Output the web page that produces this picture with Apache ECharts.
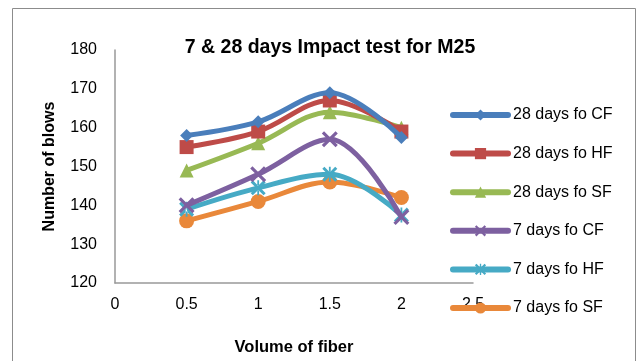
<!DOCTYPE html>
<html><head><meta charset="utf-8">
<script src="https://cdn.jsdelivr.net/npm/echarts@6/dist/echarts.min.js"></script>
<style>html,body{margin:0;padding:0;background:#fff}#c{width:644px;height:361px}</style>
</head><body><div id="c"></div>
<script>
const fiberVolumes = [0.5, 1, 1.5, 2];
const seriesNames = ['28 days fo CF','28 days fo HF','28 days fo SF','7 days fo CF','7 days fo HF','7 days fo SF'];
const d28CF = [158, 161.5, 169, 157.5];
const d28HF = [155, 159, 167, 159];
const d28SF = [149, 156, 164, 160];
const d7CF = [140, 148, 157, 137];
const d7HF = [139, 144.5, 148, 137.5];
const d7SF = [136, 141, 146, 142];
const yTicks = [120,130,140,150,160,170,180];
const xTicks = [0,0.5,1,1.5,2,2.5];

const colors = ['#4A7EBB','#BE4B48','#98B954','#7D60A0','#46AAC5','#E9883A'];
const xPath = 'path://M0,1.4 L1.4,0 L5,3.6 L8.6,0 L10,1.4 L6.4,5 L10,8.6 L8.6,10 L5,6.4 L1.4,10 L0,8.6 L3.6,5 Z';
const astPath = 'path://M0,1.4 L1.4,0 L5,3.6 L8.6,0 L10,1.4 L6.4,5 L10,8.6 L8.6,10 L5,6.4 L1.4,10 L0,8.6 L3.6,5 Z M4.4,0 L4.4,10 L5.6,10 L5.6,0 Z';
const symbols = ['diamond','rect','triangle',xPath,astPath,'circle'];
const sizes = [13,14,14,16,15,15];
const allData = [d28CF,d28HF,d28SF,d7CF,d7HF,d7SF];

const chart = echarts.init(document.getElementById('c'));
const font = "'Liberation Sans', Arial, sans-serif";
chart.setOption({
  animation:false,
  color: colors,
  title:{text:'7 & 28 days Impact test for M25', left:325, top:33, textAlign:'center',
    textStyle:{fontFamily:font,fontSize:19.5,fontWeight:'bold',color:'#000'}},
  graphic:[{type:'rect',shape:{x:12.5,y:8.5,width:623,height:360},style:{fill:'none',stroke:'#8c8c8c',lineWidth:1},silent:true,z:-1}],
  grid:{left:115,right:171,top:50,bottom:77},
  xAxis:{type:'value',min:0,max:2.5,interval:0.5,
    name:'Volume of fiber',nameLocation:'middle',nameGap:56,
    nameTextStyle:{fontFamily:font,fontSize:16.5,fontWeight:'bold',color:'#000'},
    axisLine:{lineStyle:{color:'#999',width:1.5}},axisTick:{show:false},splitLine:{show:false},
    axisLabel:{fontFamily:font,fontSize:16,color:'#000',margin:14,formatter:v=>String(v)}},
  yAxis:{type:'value',min:120,max:180,interval:10,
    name:'Number of blows',nameLocation:'middle',nameGap:57,
    nameTextStyle:{fontFamily:font,fontSize:16,fontWeight:'bold',color:'#000'},
    axisLine:{show:true,lineStyle:{color:'#999',width:1.5}},axisTick:{show:false},splitLine:{show:false},
    axisLabel:{fontFamily:font,fontSize:16,color:'#000',margin:18}},
  legend:{orient:'vertical',left:450,top:107,padding:0,itemWidth:55,itemHeight:14,itemGap:22.6,
    lineStyle:{width:6,cap:'round'},
    data:seriesNames,textStyle:{fontFamily:font,fontSize:16,color:'#000'}},
  series: seriesNames.map((n,i)=>({
    name:n,type:'line',smooth:0.35,
    data: fiberVolumes.map((x,j)=>[x,allData[i][j]]),
    symbol:symbols[i],symbolSize:sizes[i],
    lineStyle:{width:5,color:colors[i]},
    itemStyle:{color:colors[i]},
    z: 10-i
  }))
});
</script></body></html>
